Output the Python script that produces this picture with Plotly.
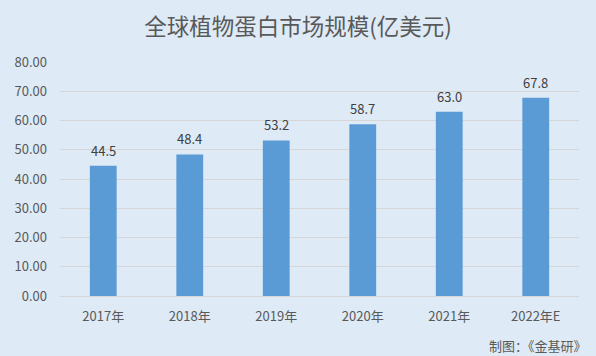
import plotly.graph_objects as go

categories = ["2017年", "2018年", "2019年", "2020年", "2021年", "2022年E"]
values = [44.5, 48.4, 53.2, 58.7, 63.0, 67.8]
value_labels = ["44.5", "48.4", "53.2", "58.7", "63.0", "67.8"]
tick_vals = [0, 10, 20, 30, 40, 50, 60, 70, 80]
tick_text = ["0.00", "10.00", "20.00", "30.00", "40.00", "50.00", "60.00", "70.00", "80.00"]

FONT = "Noto Sans CJK SC, Open Sans, sans-serif"
BG = "#DEEAF6"

fig = go.Figure(go.Bar(
    x=categories, y=values,
    marker=dict(color="#5B9BD5", line=dict(width=0)),
    hoverinfo="skip",
))

label_annotations = [
    dict(x=c, y=v, text=t, xref="x", yref="y", yanchor="bottom", xanchor="center",
         yshift=4, showarrow=False, font=dict(size=13, color="#404040", family=FONT))
    for c, v, t in zip(categories, values, value_labels)
]

fig.update_layout(
    width=596, height=356,
    paper_bgcolor=BG, plot_bgcolor=BG,
    margin=dict(l=60, r=17, t=62, b=60),
    bargap=0.69,
    showlegend=False,
    font=dict(family=FONT, color="#595959", size=13),
    title=dict(text="全球植物蛋白市场规模(亿美元)", x=0.5, xanchor="center",
               y=0.925, yanchor="middle",
               font=dict(size=22.5, color="#595959", family=FONT)),
    xaxis=dict(showgrid=False, showline=False, ticks="", tickfont=dict(size=13, color="#595959"),
               ticklabelstandoff=11),
    yaxis=dict(range=[0, 80], tickvals=tick_vals, ticktext=tick_text,
               showgrid=True, gridcolor="#D6D6D6", gridwidth=1,
               zeroline=True, zerolinecolor="#D6D6D6", zerolinewidth=1,
               showline=False, ticks="", tickfont=dict(size=13, color="#595959"),
               ticklabelstandoff=12),
    annotations=label_annotations + [
        dict(text="制图：《金基研》", xref="paper", yref="paper",
             x=1.02, y=-0.21, xanchor="right", yanchor="middle",
             showarrow=False, font=dict(size=13, color="#595959", family=FONT))],
)

fig.write_html("out.html",
               config={"displayModeBar": False, "staticPlot": True},
               post_script="document.body.style.margin='0';document.body.style.padding='0';document.body.style.overflow='hidden';")
